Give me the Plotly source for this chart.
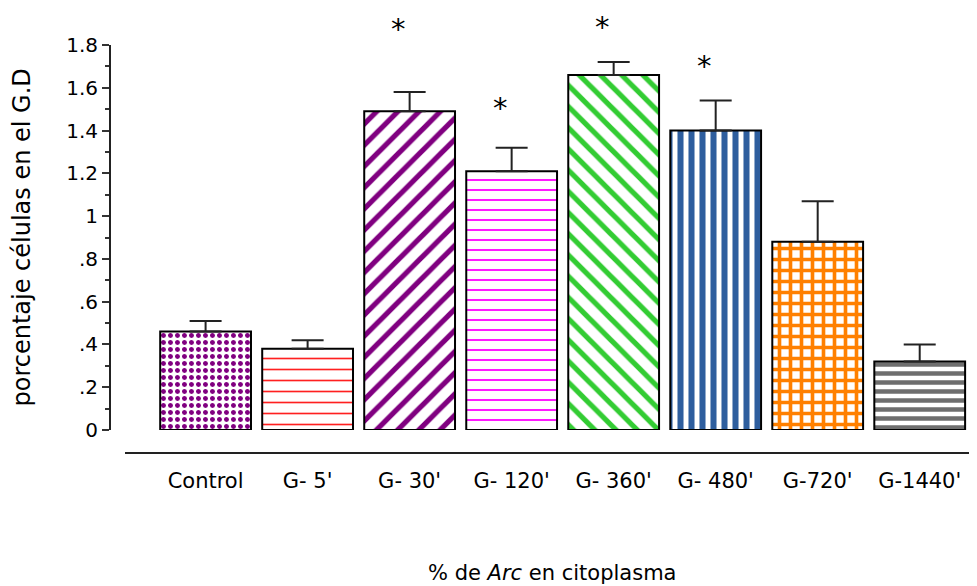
import plotly.graph_objects as go

# ---- data ----
categories = ["Control", "G- 5'", "G- 30'", "G- 120'", "G- 360'", "G- 480'", "G-720'", "G-1440'"]
means = [0.46, 0.38, 1.49, 1.21, 1.66, 1.40, 0.88, 0.32]
errors = [0.05, 0.04, 0.09, 0.11, 0.06, 0.14, 0.19, 0.08]
significant = [False, False, True, True, True, True, False, False]
y_tickvals = [0, 0.2, 0.4, 0.6, 0.8, 1.0, 1.2, 1.4, 1.6, 1.8]
y_ticktext = ["0", ".2", ".4", ".6", ".8", "1", "1.2", "1.4", "1.6", "1.8"]
y_title = "porcentaje células en el G.D"
x_title = "% de <i>Arc</i> en citoplasma"

# ---- styles ----
pat_shapes = [".", "-", "/", "-", "\\", "|", "+", "-"]
pat_colors = ["#800080", "#FF2020", "#800080", "#FF00FF", "#33CC33", "#2E5E9E", "#FF8000", "#6E6E6E"]
pat_sizes = [7, 11, 15, 10, 15, 11, 11, 9]
pat_solid = [0.4, 0.15, 0.35, 0.18, 0.35, 0.55, 0.55, 0.5]
star_shift = [0, 0, 63, 40, 35, 35, 0, 0]

FONT = "DejaVu Sans"
OFF = 8  # page body offset

fig = go.Figure()
fig.add_trace(go.Bar(
    x=categories,
    y=means,
    marker=dict(
        color="white",
        line=dict(color="black", width=2),
        pattern=dict(
            shape=pat_shapes,
            fgcolor=pat_colors,
            bgcolor="white",
            fgopacity=1,
            size=pat_sizes,
            solidity=pat_solid,
            fillmode="overlay",
        ),
    ),
    error_y=dict(
        type="data",
        symmetric=False,
        array=errors,
        arrayminus=[0] * len(errors),
        color="#222222",
        thickness=2,
        width=16,
    ),
    width=0.89,
    showlegend=False,
))

for cat, m, e, s, sh in zip(categories, means, errors, significant, star_shift):
    if s:
        fig.add_annotation(
            x=cat, y=m + e, xref="x", yref="y",
            text="*", showarrow=False,
            font=dict(family=FONT, size=29, color="black"),
            xanchor="center", yanchor="middle",
            xshift=-11, yshift=sh,
        )

# axis titles as annotations
fig.add_annotation(
    x=0.505, y=0, xref="paper", yref="paper",
    text=x_title, showarrow=False,
    font=dict(family=FONT, size=21, color="black"),
    xanchor="center", yanchor="middle", yshift=-120,
)
fig.add_annotation(
    x=0, y=(23 / 408 + 1) / 2, xref="paper", yref="paper",
    text=y_title, showarrow=False, textangle=-90,
    font=dict(family=FONT, size=24, color="black"),
    xanchor="center", yanchor="middle", xshift=-89,
)

fig.update_layout(
    width=977, height=586,
    margin=dict(l=110 - OFF, r=0, t=45 - OFF, b=586 - 453 + OFF),
    paper_bgcolor="white", plot_bgcolor="white",
    font=dict(family=FONT, color="black"),
    xaxis=dict(
        domain=[15 / 875, 1],
        anchor="free", position=0,
        range=[-0.79, 7.64],
        showline=True, linecolor="#222222", linewidth=2,
        ticks="outside", ticklen=9, tickcolor="rgba(0,0,0,0)",
        tickfont=dict(family=FONT, size=21, color="black"),
        showgrid=False, zeroline=False,
    ),
    yaxis=dict(
        domain=[23 / 408, 1],
        anchor="free", position=0,
        range=[0, 1.8],
        tickvals=y_tickvals, ticktext=y_ticktext,
        showline=True, linecolor="#222222", linewidth=2,
        ticks="outside", ticklen=7, tickwidth=2, tickcolor="#333333",
        minor=dict(ticks="outside", ticklen=4, dtick=0.1, tickcolor="#333333", tickwidth=1.5),
        tickfont=dict(family=FONT, size=20, color="black"),
        showgrid=False, zeroline=False,
    ),
    bargap=0.11,
)

fig.write_html("out.html")
